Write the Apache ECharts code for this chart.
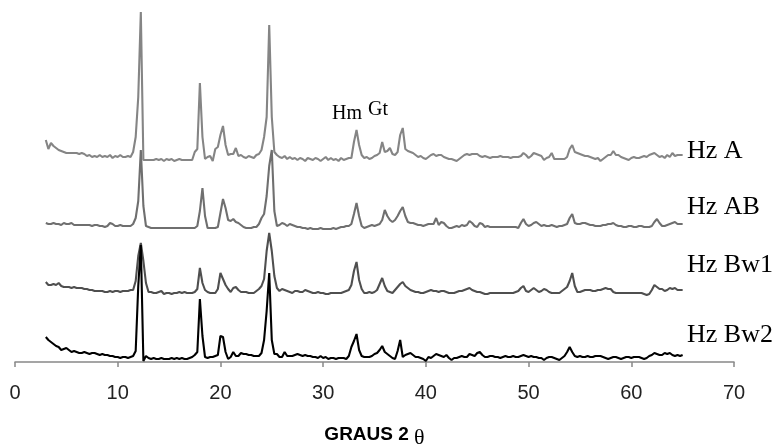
<!DOCTYPE html>
<html>
<head>
<meta charset="utf-8">
<script src="https://cdn.jsdelivr.net/npm/echarts@6/dist/echarts.min.js"></script>
<style>
  html, body { margin: 0; padding: 0; background: #fff; }
  #chart { width: 780px; height: 444px; }
</style>
</head>
<body>
<div id="chart"></div>
<script>
// scan: 2 theta from 3 to 65 deg, step 0.25
var thetaStart = 3
var thetaStep = 0.25

var sampleNames = ['Hz A', 'Hz AB', 'Hz Bw1', 'Hz Bw2']
// vertical shift of each pattern (stacked plot)
var offsets = [205, 136, 71, 6]
var lineColors = ['#858585', '#6f6f6f', '#4f4f4f', '#000000']

// intensities above each pattern's baseline, one row per degree (x.00 x.25 x.50 x.75)
var hzA = [
  17, 8, 14, 11, 9, 7, 6, 5, 4, 4, 4, 4, 4, 3, 4, 3, // 3-6
  1, 2, 0, 1, 0, 2, 0, 1, 0, 2, -1, 1, 0, 2, 0, 0, // 7-10
  1, 0, 5, 20, 60, 145, -3, -3, -3, -3, -3, -2, -3, -2, -4, -2, // 11-14
  -3, -2, -4, -3, -2, -3, -3, -3, -3, -3, 5, 8, 74, 20, -2, 0, // 15-18
  1, -4, 8, 10, 22, 31, 12, 2, 3, 3, 9, 1, 2, 0, -1, 1, // 19-22
  0, -1, 2, 3, 7, 20, 40, 132, 40, 5, 2, 0, -1, 1, -2, 0, // 23-26
  -2, -1, -3, -1, -2, -4, -1, -2, -3, -1, -2, -4, -2, 0, -3, -1, // 27-30
  -3, -2, -4, -1, -3, -2, -1, -1, 15, 27, 12, 2, -1, 0, -2, -1, // 31-34
  1, 2, 4, 15, 5, 6, 9, 3, 2, 5, 22, 29, 8, 6, 5, 4, // 35-38
  2, 0, 1, -1, -2, 0, 2, 3, 1, 2, 2, 0, -1, -2, -2, -3, // 39-42
  -4, -2, 0, 2, 3, 2, 3, 3, 3, 1, 0, 1, 0, -1, 0, 0, // 43-46
  0, 1, 0, 0, 0, -1, 0, 0, 0, 1, 4, 2, -1, 1, 4, 3, // 47-50
  2, 1, -3, -1, 0, 4, -2, -2, -2, -2, -2, 0, 8, 12, 5, 4, // 51-54
  3, 2, 1, 1, 0, -1, -2, -1, -4, -2, 0, 2, 2, 6, 2, 2, // 55-58
  0, -1, -2, -3, -1, 0, -1, -1, 0, 1, 0, 2, 3, 4, 2, 0, // 59-62
  1, -1, 2, 0, 4, 1, 2, 2, 2 // 63-65
]
var hzAB = [
  3, 2, 2, 3, 2, 2, 1, 3, 2, 2, 3, 1, 1, 1, 1, 1, // 3-6
  1, 1, 0, 1, 1, 0, 0, -1, 0, 3, 2, 0, 0, 1, 0, 0, // 7-10
  0, 0, 2, 8, 25, 76, 20, 0, -1, -2, -2, -2, -2, -2, -2, -2, // 11-14
  -2, -2, -2, -2, -2, -2, -2, -2, -2, -2, -2, 0, 15, 38, 10, -2, // 15-18
  -2, -2, -2, -1, 13, 27, 18, 6, 5, 7, 4, 3, 1, -1, -2, -2, // 19-22
  -2, -1, -1, 2, 8, 12, 30, 60, 76, 15, 0, 1, 3, 2, 0, 2, // 23-26
  1, 0, -1, -1, -2, -2, -3, -2, -3, -3, -3, -2, -3, -3, -3, -3, // 27-30
  -2, -3, -2, -1, -1, 0, 0, 2, 12, 23, 10, 0, -2, -1, 0, 1, // 31-34
  0, 1, 2, 6, 16, 10, 6, 4, 6, 10, 15, 19, 10, 4, 3, 3, // 35-38
  2, 1, 1, 0, 1, 2, 2, 2, 8, 1, 4, 3, 0, -2, -2, -1, // 39-42
  0, -1, 1, 0, 1, 5, 3, 0, -1, 3, 2, -1, 0, -1, -1, -1, // 43-46
  -1, -1, -1, -1, -1, -1, -1, -1, -2, 3, 7, 2, 0, 1, 3, 4, // 47-50
  2, 0, 1, 0, 0, 1, 0, -1, 0, 0, 1, 2, 8, 12, 3, 2, // 51-54
  2, 3, 3, 2, 1, 1, 0, 0, 0, 1, 1, 2, 2, 3, 1, 0, // 55-58
  0, -1, -1, 0, 0, -1, -1, 0, 0, -1, -1, -1, 0, 4, 7, 3, // 59-62
  0, 0, 1, 2, 3, 4, 2, 2, 2 // 63-65
]
var hzBw1 = [
  9, 6, 6, 7, 6, 8, 5, 4, 4, 4, 3, 4, 3, 3, 3, 2, // 3-6
  2, 1, 1, 0, 0, 0, 0, -1, -1, 0, -1, 0, 0, -1, 0, 0, // 7-10
  0, 1, 1, 10, 35, 48, 30, 8, -1, -1, -2, -2, -1, 0, -3, -2, // 11-14
  -2, -3, -2, -2, -1, -2, -1, -2, -2, -2, -1, 2, 23, 8, 1, -1, // 15-18
  -2, -2, -2, 2, 18, 12, 6, 2, -1, 3, 4, 1, -1, -1, -1, -2, // 19-22
  -2, -2, 0, 2, 5, 12, 40, 58, 40, 15, 3, 0, 2, 1, 0, -1, // 23-26
  -2, 0, 0, -1, -1, 1, 0, -1, -2, -2, -1, -2, -2, -3, -3, -2, // 27-30
  -2, -2, -2, -2, -1, 0, 1, 6, 20, 29, 11, 2, -2, -2, -1, -2, // 31-34
  -1, 1, 7, 13, 5, 0, -1, -2, 1, 4, 7, 9, 5, 3, 1, 0, // 35-38
  -1, -1, -2, -2, -1, 0, 1, 0, 0, -1, 0, 0, -1, -2, -2, -2, // 39-42
  -1, 0, 0, 1, 2, 3, 1, 0, -1, -1, -2, -3, -3, -2, -2, -2, // 43-46
  -2, -2, -2, -2, -2, -2, -2, -1, 0, 3, 5, 0, -1, 1, 3, 1, // 47-50
  -1, 0, 2, 1, -1, -2, -2, -2, -2, 0, 2, 4, 10, 18, 5, -1, // 51-54
  -1, 0, 1, 1, 1, 0, 0, 1, 1, 2, 3, 2, 2, -1, -2, -2, // 55-58
  -2, -2, -2, -2, -2, -2, -2, -2, -2, -3, -4, -3, 1, 6, 4, 2, // 59-62
  2, 0, 1, 3, 2, 3, 1, 1, 1 // 63-65
]
var hzBw2 = [
  19, 16, 14, 12, 10, 9, 6, 7, 8, 6, 4, 5, 4, 3, 3, 4, // 3-6
  3, 2, 3, 3, 2, 1, 2, 1, 1, 0, 0, -1, -1, -2, -1, -1, // 7-10
  -2, -1, 0, 5, 70, 111, -5, 0, -2, -3, -2, -3, -3, -2, -3, -3, // 11-14
  -3, -2, -3, -2, -3, -2, -3, -3, -2, -1, 1, 4, 57, 20, -1, -2, // 15-18
  -1, -1, 0, 1, 20, 19, 4, -3, -1, 4, 0, 0, 3, 2, 2, 1, // 19-22
  1, 0, 0, 0, 3, 16, 45, 83, 16, 2, 2, -1, -1, 4, 0, 0, // 23-26
  0, 1, 2, 1, 0, 1, 0, 0, -1, -1, -2, 0, -2, -1, -3, -2, // 27-30
  -2, -3, -2, -2, -2, -3, 0, 9, 15, 22, 6, 0, -1, -1, -1, 0, // 31-34
  2, 3, 6, 10, 4, 2, 0, -2, -3, 5, 16, -1, 1, 2, 3, 1, // 35-38
  -1, -1, -2, -3, -5, -1, -2, 0, 2, 1, 0, -1, 1, -2, -4, -2, // 39-42
  -2, -1, 0, -1, -1, 2, 1, 0, 3, 4, 1, -1, -1, 0, 0, -1, // 43-46
  -1, -2, -1, 0, -1, -1, 0, -1, -1, 0, 1, 0, -1, 0, -1, -1, // 47-50
  -2, -2, -4, -2, -1, -1, -2, -3, -4, -2, 0, 4, 9, 4, 0, -1, // 51-54
  0, -1, -1, 0, -1, -1, 0, 0, 0, -1, -2, -3, -2, -1, -1, -2, // 55-58
  -3, -2, -1, -1, -2, -1, -1, -1, -2, -3, -2, 0, 1, 3, 2, 1, // 59-62
  1, 3, 2, 3, 1, 0, 1, 0, 1 // 63-65
]
var patterns = [hzA, hzAB, hzBw1, hzBw2]

var xTicks = { min: 0, max: 70, interval: 10 }

var chart = echarts.init(document.getElementById('chart'), null, { renderer: 'canvas' })

function toPoints(values, offset) {
  return values.map(function(v, i) {
    return [thetaStart + i * thetaStep, offset + v]
  })
}

var series = patterns.map(function(values, k) {
  return {
    name: sampleNames[k],
    type: 'line',
    symbol: 'none',
    z: 10 + k,
    lineStyle: { color: lineColors[k], width: 2.1 },
    data: toPoints(values, offsets[k])
  }
})

// sample names at the right end of each pattern
var labelY = [153, 209, 267, 337]
var graphics = sampleNames.map(function(name, k) {
  return {
    type: 'text',
    left: 687,
    top: labelY[k] - 15,
    style: {
      text: name,
      fill: '#000',
      font: '26px "Liberation Serif", "Times New Roman", serif'
    }
  }
})
graphics.push({
  type: 'text', left: 332, top: 104,
  style: { text: 'Hm', fill: '#000', font: '20px "Liberation Serif", serif' }
})
graphics.push({
  type: 'text', left: 368, top: 100,
  style: { text: 'Gt', fill: '#000', font: '20px "Liberation Serif", serif' }
})

chart.setOption({
  animation: false,
  backgroundColor: '#fff',
  grid: { left: 15, right: 46, top: 0, bottom: 82, containLabel: false, outerBoundsMode: 'none' },
  xAxis: {
    type: 'value',
    min: xTicks.min,
    max: xTicks.max,
    interval: xTicks.interval,
    name: 'GRAUS 2 {t|θ}',
    nameLocation: 'middle',
    nameGap: 59,
    nameTextStyle: {
      fontFamily: '"Liberation Sans", Arial, sans-serif',
      fontWeight: 'bold',
      fontSize: 19,
      color: '#000',
      rich: {
        t: { fontFamily: '"Liberation Serif", serif', fontSize: 22, fontWeight: 'normal', color: '#000', padding: [6, 0, 0, 0] }
      }
    },
    axisLine: { lineStyle: { color: '#888', width: 1.5 } },
    axisTick: { inside: false, length: 5, lineStyle: { color: '#888', width: 1.5 } },
    axisLabel: {
      margin: 21,
      fontFamily: '"Liberation Sans", Arial, sans-serif',
      fontSize: 20,
      color: '#222'
    },
    splitLine: { show: false }
  },
  yAxis: {
    type: 'value',
    min: 0,
    max: 362,
    show: false
  },
  graphic: graphics,
  series: series
})
</script>
</body>
</html>
